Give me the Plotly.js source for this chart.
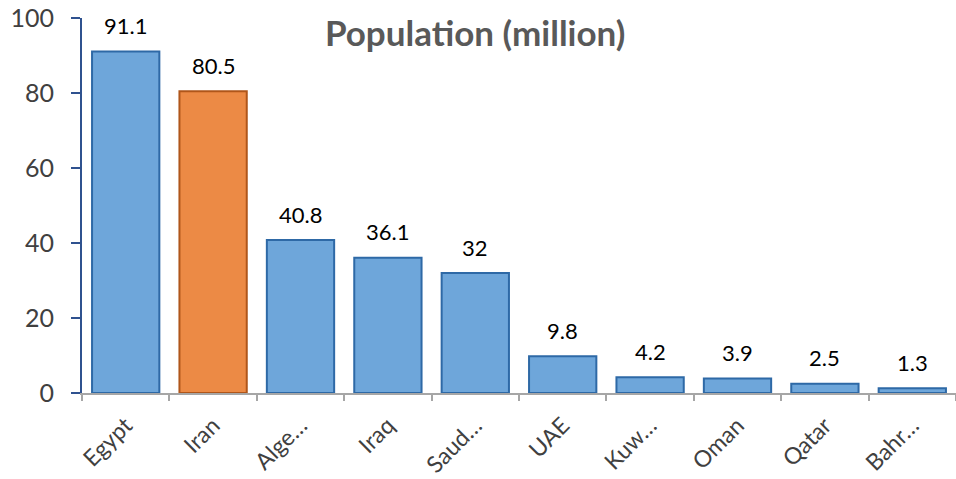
<!DOCTYPE html>
<html><head><meta charset="utf-8">
<script src="https://cdn.plot.ly/plotly-3.0.1.min.js"></script>
<style>html,body{margin:0;padding:0;background:#fff}</style>
</head><body>
<div id="chart" style="width:956px;height:479px"></div>
<script>
const categories = ["Egypt","Iran","Alge…","Iraq","Saud…","UAE","Kuw…","Oman","Qatar","Bahr…"];
const population = [91.1, 80.5, 40.8, 36.1, 32, 9.8, 4.2, 3.9, 2.5, 1.3];
const labels = ["91.1","80.5","40.8","36.1","32","9.8","4.2","3.9","2.5","1.3"];

const fill = categories.map((c,i)=> i===1 ? "#ec8a45" : "#6ea6da");
const edge = categories.map((c,i)=> i===1 ? "#b0561a" : "#2e69a6");
const FONT = "Lato, 'Open Sans', sans-serif";

const trace = {
  type: "bar",
  x: categories,
  y: population,
  marker: {color: fill, line: {color: edge, width: 2}},
  hoverinfo: "x+y"
};

const annotations = categories.map((c,i)=>({
  x: c, y: population[i], xref: "x", yref: "y",
  text: labels[i], showarrow: false,
  yanchor: "middle", yshift: 26,
  font: {family: FONT, size: 22, color: "#000"}
}));

const layout = {
  width: 956, height: 479,
  margin: {l: 82, r: 0, t: 18, b: 86},
  paper_bgcolor: "#fff", plot_bgcolor: "#fff",
  bargap: 0.23,
  showlegend: false,
  annotations: annotations,
  title: {text: "<b>Population (million)</b>", x: 0.497, xanchor: "center", y: 0.93, yanchor: "middle",
          font: {family: FONT, size: 35, color: "#595959"}},
  xaxis: {
    type: "category",
    tickangle: -45,
    tickfont: {family: FONT, size: 23, color: "#404040"},
    ticklabelstandoff: 8,
    showline: true, linecolor: "#a6a6a6", linewidth: 2,
    ticks: "outside", tickcolor: "#a6a6a6", ticklen: 6, tickwidth: 2,
    tickson: "boundaries",
    showgrid: false, zeroline: false
  },
  yaxis: {
    range: [0, 100],
    tickvals: [0,20,40,60,80,100],
    tickfont: {family: FONT, size: 25, color: "#404040"},
    ticklabelstandoff: 12,
    showline: true, linecolor: "#2f528f", linewidth: 2,
    ticks: "outside", tickcolor: "#2f528f", ticklen: 9, tickwidth: 2,
    showgrid: false, zeroline: false
  }
};

Plotly.newPlot("chart", [trace], layout, {displayModeBar: false, staticPlot: true});
</script>
</body></html>
